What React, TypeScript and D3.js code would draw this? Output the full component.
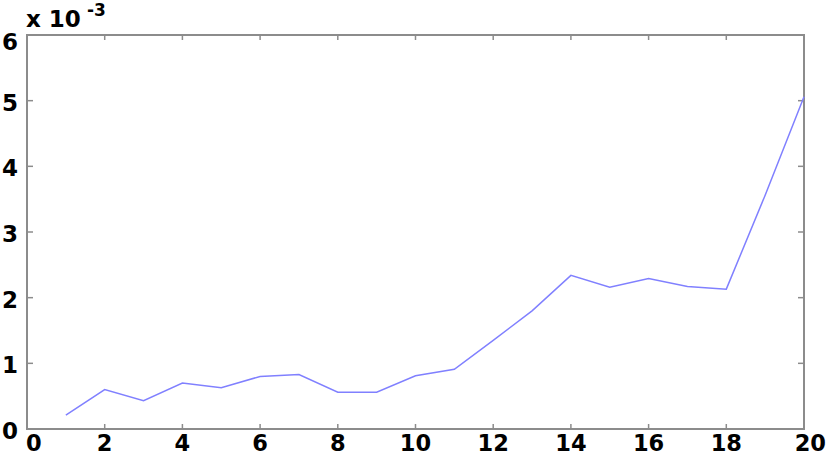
import React from "react";
import * as d3 from "d3";

const xValues = [1, 2, 3, 4, 5, 6, 7, 8, 9, 10, 11, 12, 13, 14, 15, 16, 17, 18, 19, 20];
const yValues = [0.21, 0.6, 0.43, 0.7, 0.63, 0.8, 0.83, 0.56, 0.56, 0.81, 0.91, 1.35, 1.8, 2.34, 2.16, 2.29, 2.17, 2.13, 3.56, 5.06];
const xTicks = [0, 2, 4, 6, 8, 10, 12, 14, 16, 18, 20];
const yTicks = [0, 1, 2, 3, 4, 5, 6];

const W = 827;
const H = 456;
const L = 27, R = 804, T = 35, B = 429;

export default function App() {
  const x = d3.scaleLinear().domain([0, 20]).range([L, R]);
  const y = d3.scaleLinear().domain([0, 6]).range([B, T]);
  const line = d3.line<number>().x((_, i) => x(xValues[i])).y((d) => y(d));
  const font = "'DejaVu Sans', Verdana, sans-serif";
  const axisColor = "#8c8c8c";
  return (
    <svg width={W} height={H} style={{ position: "absolute", left: 0, top: 0, background: "#fff" }}>
      <rect x={L} y={T} width={R - L} height={B - T} fill="#fff" stroke={axisColor} strokeWidth={2} />
      {xTicks.map((t, i) =>
        i > 0 && i < xTicks.length - 1 ? (
          <g key={"xt" + t}>
            <line x1={x(t)} x2={x(t)} y1={B} y2={B - 5} stroke={axisColor} strokeWidth={1.5} />
            <line x1={x(t)} x2={x(t)} y1={T} y2={T + 5} stroke={axisColor} strokeWidth={1.5} />
          </g>
        ) : null
      )}
      {yTicks.map((t, i) =>
        i > 0 && i < yTicks.length - 1 ? (
          <g key={"yt" + t}>
            <line x1={L} x2={L + 6} y1={y(t)} y2={y(t)} stroke={axisColor} strokeWidth={1.5} />
            <line x1={R} x2={R - 6} y1={y(t)} y2={y(t)} stroke={axisColor} strokeWidth={1.5} />
          </g>
        ) : null
      )}
      <path d={line(yValues) || ""} fill="none" stroke="#8080ff" strokeWidth={1.5} />
      {xTicks.map((t, i) => {
        const first = i === 0;
        const last = i === xTicks.length - 1;
        return (
          <text
            key={"xl" + t}
            x={first ? x(t) - 1 : last ? W - 1 : x(t)}
            y={451}
            textAnchor={first ? "start" : last ? "end" : "middle"}
            fontFamily={font}
            fontWeight="bold"
            fontSize={22.5}
            fill="#000"
          >
            {t}
          </text>
        );
      })}
      {yTicks.map((t, i) => {
        const last = i === yTicks.length - 1;
        return (
          <text
            key={"yl" + t}
            x={18}
            y={(last ? y(t) + 7 : y(t) + 2) + 8}
            textAnchor="end"
            fontFamily={font}
            fontWeight="bold"
            fontSize={23}
            fill="#000"
          >
            {t}
          </text>
        );
      })}
      <text x={26} y={27} fontFamily={font} fontWeight="bold" fontSize={23} fill="#000">
        x 10
      </text>
      <text x={87} y={16} fontFamily={font} fontWeight="bold" fontSize={17} fill="#000">
        -3
      </text>
    </svg>
  );
}
